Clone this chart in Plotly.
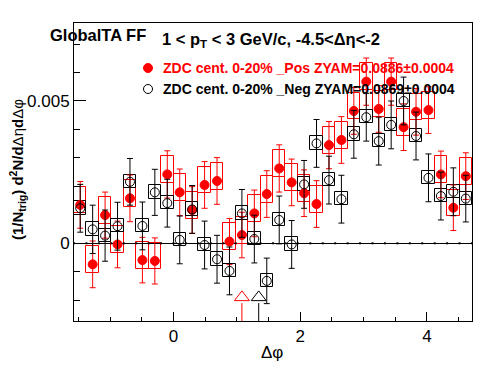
import math
import plotly.graph_objects as go

# ---------------- data ----------------
n_bins = 32
bin_width = 2 * math.pi / n_bins
dphi = [-math.pi / 2 + (i + 0.5) * bin_width for i in range(n_bins)]

pos_vals = [0.00135, -0.00074, 0.00099, -0.00004, 0.00158, -0.00059, -0.00062, 0.00242,
            0.00179, 0.00117, 0.00205, 0.00219, 0.00006, 0.00029, 0.00105, 0.00173,
            0.00263, 0.00214, 0.00176, 0.00138, 0.00345, 0.00363, 0.00465, 0.00568,
            0.00472, 0.00568, 0.00408, 0.00462, 0.00468, 0.00242, 0.00125, 0.00236]
pos_err = [0.00082, 0.00082, 0.00081, 0.00082, 0.00082, 0.00080, 0.00081, 0.00083,
           0.00082, 0.00082, 0.00082, 0.00082, 0.00081, 0.00080, 0.00082, 0.00082,
           0.00083, 0.00082, 0.00082, 0.00082, 0.00083, 0.00082, 0.00082, 0.00083,
           0.00082, 0.00083, 0.00082, 0.00082, 0.00082, 0.00082, 0.00080, 0.00082]
pos_sys_up = [0.00064, 0.00064, 0.00064, 0.00064, 0.00064, 0.00064, 0.00064, 0.00064,
              0.00064, 0.00064, 0.00064, 0.00064, 0.00064, 0.00064, 0.00064, 0.00064,
              0.00064, 0.00064, 0.00064, 0.00064, 0.00064, 0.00064, 0.00064, 0.00064,
              0.00064, 0.00064, 0.00064, 0.00064, 0.00064, 0.00064, 0.00064, 0.00064]
pos_sys_dn = [0.00030, 0.00030, 0.00030, 0.00030, 0.00030, 0.00030, 0.00030, 0.00030,
              0.00030, 0.00030, 0.00030, 0.00030, 0.00030, 0.00030, 0.00030, 0.00030,
              0.00030, 0.00030, 0.00030, 0.00030, 0.00030, 0.00030, 0.00030, 0.00030,
              0.00030, 0.00030, 0.00030, 0.00030, 0.00030, 0.00030, 0.00030, 0.00030]

neg_vals = [0.00123, 0.00049, 0.00027, 0.00060, 0.00216, 0.00061, 0.00179, 0.00141,
            0.00012, 0.00119, -0.00006, -0.00056, -0.00097, 0.00105, 0.00015, -0.00132,
            0.00082, -0.00004, 0.00207, 0.00351, 0.00222, 0.00155, 0.00383, 0.00443,
            0.00359, 0.00416, 0.00500, 0.00377, 0.00230, 0.00166, 0.00181, 0.00157]
neg_err = [0.00084, 0.00085, 0.00090, 0.00084, 0.00082, 0.00084, 0.00081, 0.00084,
           0.00084, 0.00084, 0.00084, 0.00084, 0.00084, 0.00084, 0.00084, 0.00080,
           0.00084, 0.00084, 0.00084, 0.00084, 0.00084, 0.00084, 0.00084, 0.00084,
           0.00084, 0.00084, 0.00084, 0.00084, 0.00084, 0.00084, 0.00084, 0.00082]
neg_sys_up = [0.00025, 0.00025, 0.00025, 0.00025, 0.00025, 0.00025, 0.00025, 0.00025,
              0.00025, 0.00025, 0.00025, 0.00025, 0.00025, 0.00025, 0.00025, 0.00025,
              0.00025, 0.00025, 0.00025, 0.00025, 0.00025, 0.00025, 0.00025, 0.00025,
              0.00025, 0.00025, 0.00025, 0.00025, 0.00025, 0.00025, 0.00025, 0.00025]
neg_sys_dn = [0.00022, 0.00022, 0.00022, 0.00022, 0.00022, 0.00022, 0.00022, 0.00022,
              0.00022, 0.00022, 0.00022, 0.00022, 0.00022, 0.00022, 0.00022, 0.00022,
              0.00022, 0.00022, 0.00022, 0.00022, 0.00022, 0.00022, 0.00022, 0.00022,
              0.00022, 0.00022, 0.00022, 0.00022, 0.00022, 0.00022, 0.00022, 0.00022]

# ZYAM minimum markers (arrows)
zyam_x = [1.08, 1.345]
zyam_y = [-0.0019, -0.0019]
zyam_colors = ["red", "black"]

bin_edges = [-math.pi / 2 + k * bin_width for k in range(n_bins + 1)]
zero_line = [0.0] * (n_bins + 1)

x_range = [-math.pi / 2, 3 * math.pi / 2]
y_range = [-0.00273, 0.00774]

legend_pos = "ZDC cent. 0-20% _Pos ZYAM=0.0886±0.0004"
legend_neg = "ZDC cent. 0-20% _Neg ZYAM=0.0869±0.0004"

FONT = "Liberation Sans, Arial, Helvetica, sans-serif"

fig = go.Figure()

# small dots along zero
fig.add_trace(go.Scatter(x=bin_edges, y=zero_line, mode="markers",
                         marker=dict(symbol="square", size=2, color="black"),
                         showlegend=False, hoverinfo="skip"))


def add_series(vals, err, sup, sdn, color, symbol):
    fig.add_trace(go.Bar(
        x=dphi, y=[u + d for u, d in zip(sup, sdn)],
        base=[v - d for v, d in zip(vals, sdn)],
        width=bin_width,
        marker=dict(color="rgba(0,0,0,0)", line=dict(color=color, width=1)),
        showlegend=False, hoverinfo="skip"))
    fig.add_trace(go.Scatter(
        x=dphi, y=vals, mode="markers",
        marker=dict(symbol=symbol, size=9, color=color,
                    line=dict(color=color, width=1)),
        error_y=dict(type="data", array=err, color=color, thickness=1, width=3),
        showlegend=False))


add_series(pos_vals, pos_err, pos_sys_up, pos_sys_dn, "red", "circle")
add_series(neg_vals, neg_err, neg_sys_up, neg_sys_dn, "black", "circle-open")

# arrows marking ZYAM position
for xv, yv, c in zip(zyam_x, zyam_y, zyam_colors):
    fig.add_trace(go.Scatter(x=[xv, xv], y=[y_range[0], yv - 0.0002], mode="lines",
                             line=dict(color=c, width=1), showlegend=False))
    fig.add_trace(go.Scatter(x=[xv], y=[yv], mode="markers",
                             marker=dict(symbol="triangle-up-open", size=13, color=c,
                                         line=dict(color=c, width=1)),
                             showlegend=False))

# page has an 8px body margin: figure is 488x366 so it fills the 496x374 window
fig.update_layout(
    width=488, height=366,
    margin=dict(l=66, r=24, t=15, b=53, pad=0),
    paper_bgcolor="white", plot_bgcolor="white",
    barmode="overlay", bargap=0,
    font=dict(family=FONT, color="black"),
    xaxis=dict(range=x_range, showgrid=False, zeroline=False,
               showline=True, mirror=True, linecolor="black", linewidth=1,
               ticks="inside", ticklen=9, tickcolor="black", dtick=2, tick0=0,
               tickfont=dict(size=17),
               minor=dict(dtick=0.5, tick0=0, ticks="inside", ticklen=4, tickcolor="black"),
               automargin=False),
    yaxis=dict(range=y_range, showgrid=False,
               zeroline=True, zerolinecolor="black", zerolinewidth=1,
               showline=True, mirror=True, linecolor="black", linewidth=1,
               ticks="inside", ticklen=12, tickcolor="black",
               tickvals=[0, 0.005], ticktext=["0", "0.005"],
               tickfont=dict(size=17),
               minor=dict(dtick=0.001, tick0=0, ticks="inside", ticklen=6, tickcolor="black"),
               automargin=False),
)

# screen-pixel -> paper conversion (plot area on screen: x 74..472, y 23..321)
def px_to_paper_x(px):
    return (px - 74) / 398.0

def px_to_paper_y(py):
    return (321 - py) / 298.0

ann = []
ann.append(dict(text="<b>GlobalTA FF</b>", x=px_to_paper_x(48), y=px_to_paper_y(35),
                xanchor="left", yanchor="middle", font=dict(size=16.5, color="black")))
ann.append(dict(text="<b>1 &lt; p<sub>T</sub> &lt; 3 GeV/c, -4.5&lt;Δη&lt;-2</b>",
                x=px_to_paper_x(160), y=px_to_paper_y(40),
                xanchor="left", yanchor="middle", font=dict(size=16.5, color="black")))
ann.append(dict(text="<b>" + legend_pos + "</b>", x=px_to_paper_x(161), y=px_to_paper_y(68),
                xanchor="left", yanchor="middle", font=dict(size=14, color="red")))
ann.append(dict(text="<b>" + legend_neg + "</b>", x=px_to_paper_x(161), y=px_to_paper_y(89),
                xanchor="left", yanchor="middle", font=dict(size=14, color="black")))
ann.append(dict(text="<b>(1/N<sub>trig</sub>) d<sup>2</sup>N/d</b>Δη<b>d</b>Δφ",
                x=px_to_paper_x(17), y=px_to_paper_y(169), textangle=-90,
                xanchor="center", yanchor="middle", font=dict(size=15, color="black")))
ann.append(dict(text="Δφ", x=px_to_paper_x(272), y=px_to_paper_y(352),
                xanchor="center", yanchor="middle", font=dict(size=17, color="black")))
for a in ann:
    a.update(xref="paper", yref="paper", showarrow=False)
fig.update_layout(annotations=ann)

# legend symbols
shapes = []
for py, c, fill in [(68, "red", "red"), (89, "black", "white")]:
    shapes.append(dict(type="circle", xref="paper", yref="paper",
                       xsizemode="pixel", ysizemode="pixel",
                       xanchor=px_to_paper_x(148), yanchor=px_to_paper_y(py),
                       x0=-4.5, x1=4.5, y0=-4.5, y1=4.5,
                       line=dict(color=c, width=1), fillcolor=fill))
fig.update_layout(shapes=shapes)

fig.write_html("out.html")
